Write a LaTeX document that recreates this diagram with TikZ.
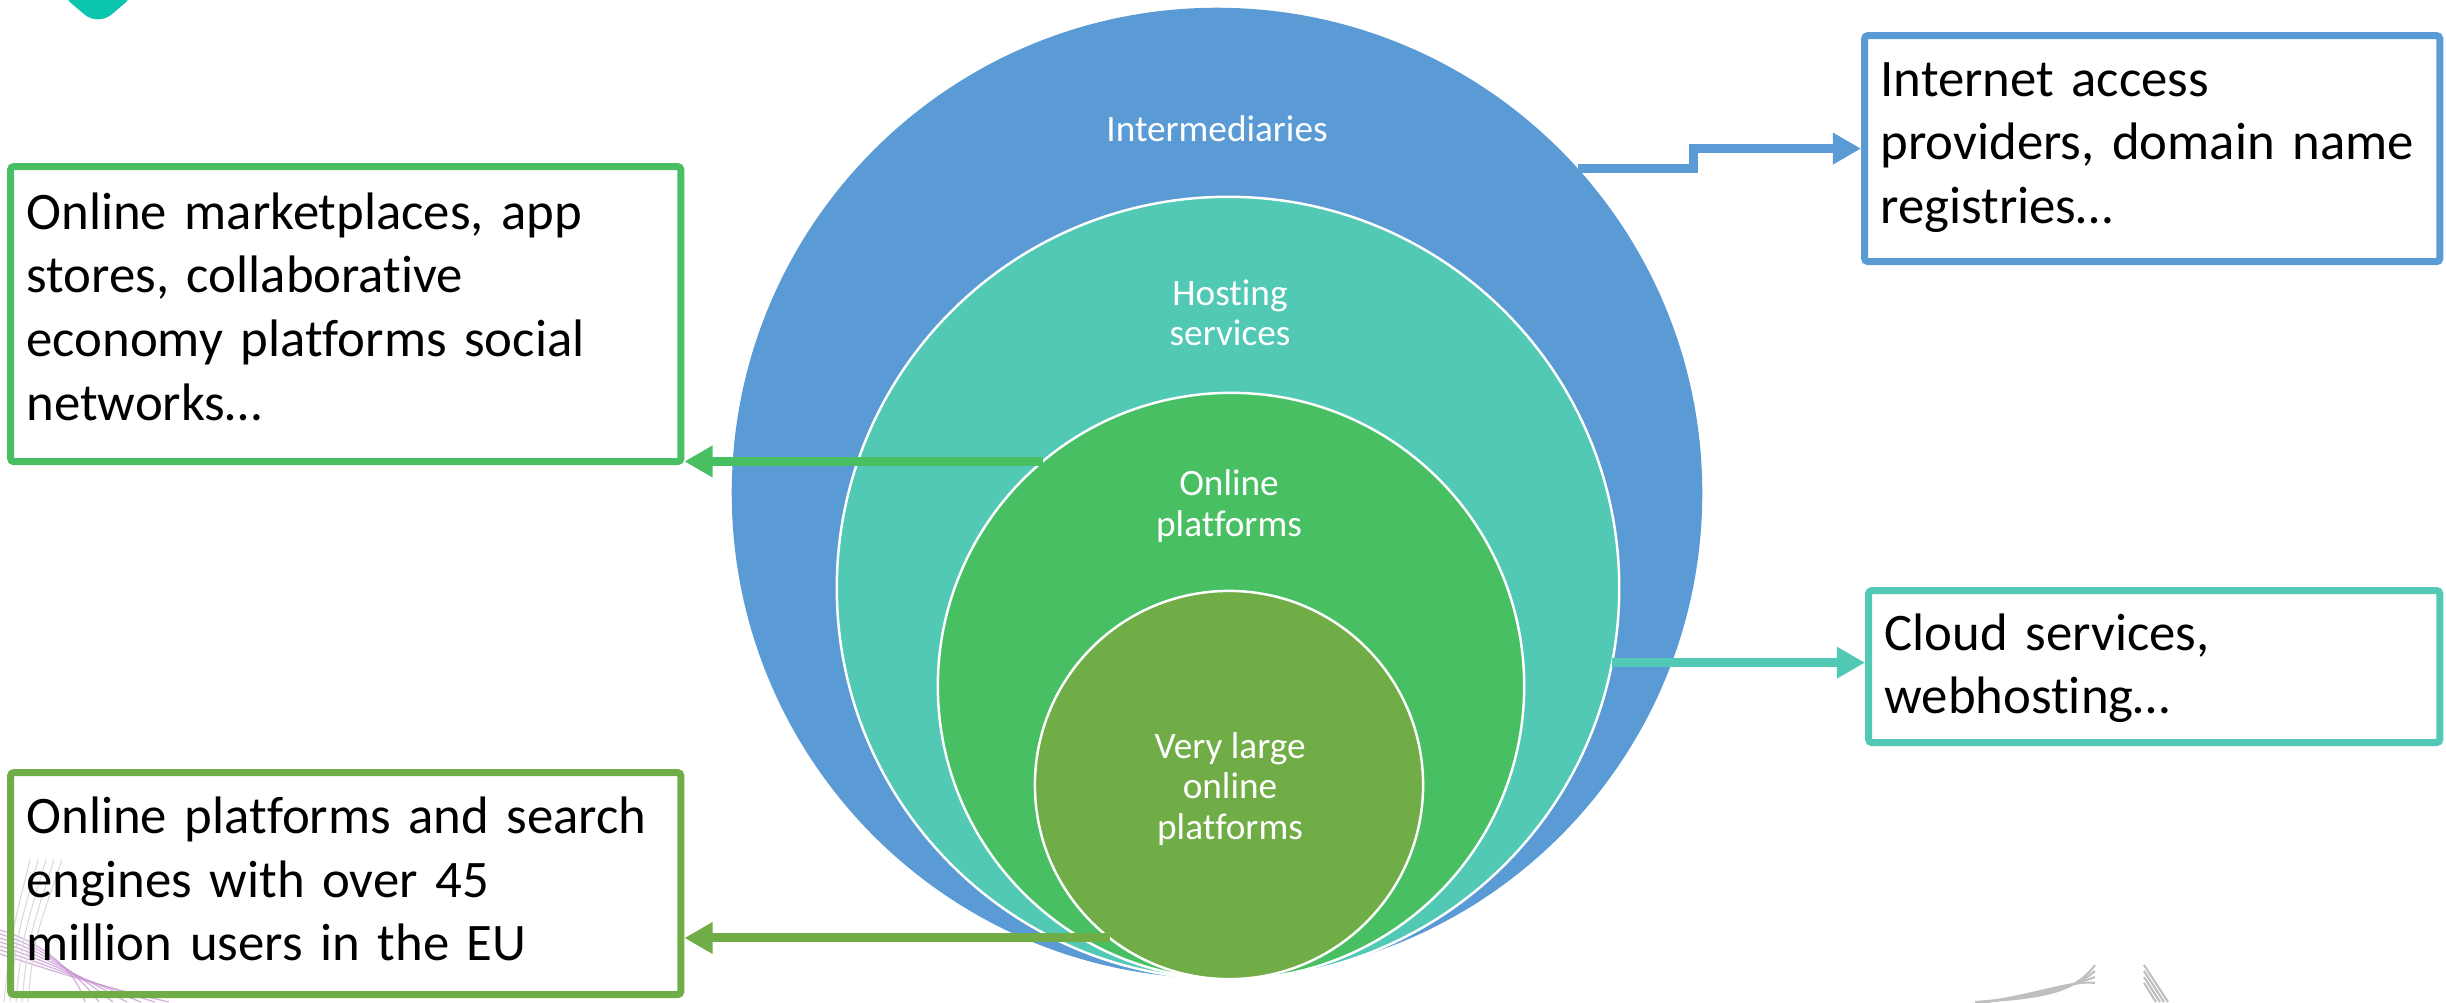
\documentclass[tikz,border=0pt]{standalone}
\usepackage{fontspec}
\setmainfont{Carlito}[Ligatures=CommonOff]
\usepackage{xcolor}
\usetikzlibrary{arrows.meta}

\definecolor{interblue}{RGB}{91,155,213}
\definecolor{hostteal}{RGB}{82,201,181}
\definecolor{platgreen}{RGB}{72,191,99}
\definecolor{vlopolive}{RGB}{112,173,71}
\definecolor{logoteal}{RGB}{12,197,174}
\definecolor{swooshpink}{RGB}{200,150,210}

\tikzset{
  ring/.style={circle, inner sep=0pt, outer sep=0pt, draw=white, line width=0.7pt},
  ringtext/.style={text=white, align=center, font=\fontsize{10.6}{11.4}\selectfont},
  infobox/.style={draw=#1, line width=2pt, rounded corners=1pt,
    anchor=north west, inner xsep=0.16cm, inner ysep=0pt, align=left,
    font=\fontsize{15}{18.1}\selectfont},
  feed/.style={draw=#1, line width=2.56pt, -{Triangle[length=8pt,width=8.5pt]}},
}

\begin{document}
\begin{tikzpicture}[x=0.01cm, y=-0.01cm]
  \useasboundingbox (0,0) rectangle (2446,1002);

  % slide background bits
  \fill[logoteal, rounded corners=5pt] (58,-8) -- (98,26) -- (138,-8) -- cycle;
  \foreach \i in {0,...,6}
    \draw[swooshpink, line width=0.35pt, opacity=0.75]
      (0,930+\i*4) .. controls (40,942+\i*4) and (75,968+\i*2) .. (85+\i*14,1002);
  \foreach \i in {0,...,4}
    \draw[black!15, line width=0.3pt]
      (4+\i*6,1002) .. controls (10+\i*6,940) .. (30+\i*8,860);
  \foreach \i in {0,...,3} {
    \draw[black!25, line width=0.6pt]
      (1975+\i*4,1002) .. controls (2045,998-\i*2) and (2075,992-\i*4) .. (2095,965+\i*6);
    \draw[black!25, line width=0.6pt] (2144,965+\i*6) -- (2168-\i*4,1002);
  }

  % nested circles, all touching at the bottom
  \node[ring, fill=interblue, draw=none, minimum size=9.70cm] (inter) at (1217,493) {};
  \node[ring, fill=hostteal, minimum size=7.82cm] (host) at (1228,588) {};
  \node[ring, fill=platgreen, minimum size=5.86cm] (plat) at (1231,686) {};
  \node[ring, fill=vlopolive, minimum size=3.88cm] (vlop) at (1229,785) {};

  \node[ringtext] (intertext) at (1217,129) {Intermediaries};
  \node[ringtext] (hosttext) at (1230,313) {Hosting\\services};
  \node[ringtext] (plattext) at (1229,506) {Online\\platforms};
  \node[ringtext] (vloptext) at (1230,789) {Very large\\online\\platforms};

  % example boxes (text height = first baseline below the top edge)
  \node[infobox=interblue, minimum width=5.75cm, minimum height=2.26cm, text width=5.43cm,
    text height=0.605cm, text depth=1.655cm]
    (accessbox) at (1861,32) {Internet access\\providers, domain name\\registries\dots};
  \node[infobox=hostteal, minimum width=5.71cm, minimum height=1.52cm, text width=5.39cm,
    text height=0.595cm, text depth=0.925cm]
    (cloudbox) at (1865,587) {Cloud services,\\webhosting\dots};
  \node[infobox=platgreen, minimum width=6.70cm, minimum height=2.95cm, text width=6.38cm,
    text height=0.625cm, text depth=2.325cm]
    (marketbox) at (7,163) {Online marketplaces, app\\stores, collaborative\\economy platforms social\\networks\dots};
  \node[infobox=vlopolive, minimum width=6.70cm, minimum height=2.22cm, text width=6.38cm,
    text height=0.61cm, text depth=1.61cm]
    (vlopbox) at (7,769) {Online platforms and search\\engines with over 45\\million users in the EU};

  % connectors
  \draw[feed=interblue] (inter.42) -- ++(116,0) |- (accessbox.west);
  \draw[feed=hostteal] (host.-11) -- (host.-11 -| cloudbox.west);
  \draw[feed=platgreen] (plat.130) -- (plat.130 -| marketbox.east);
  \draw[feed=vlopolive] (vlop.-128) -- (vlop.-128 -| vlopbox.east);
\end{tikzpicture}
\end{document}
